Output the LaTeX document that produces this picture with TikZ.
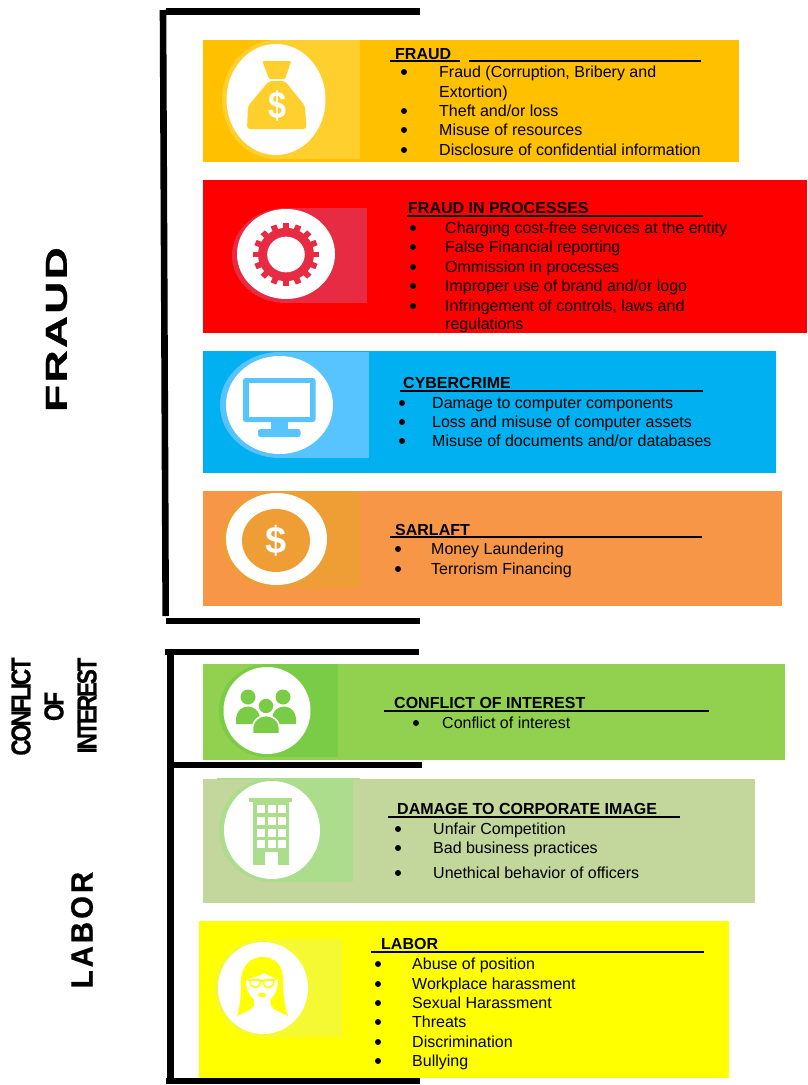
\documentclass[tikz,border=0pt]{standalone}
\usepackage{graphicx}
\usepackage{fontspec}
\setmainfont{Liberation Sans}
\newfontfamily\fraudBold[LetterSpace=5,FakeBold=0.6]{Liberation Sans}
\newfontfamily\wideBold[LetterSpace=10,FakeBold=0.6]{Liberation Sans}
\newfontfamily\tightBold[LetterSpace=-10,FakeBold=0.5]{Liberation Sans}
\definecolor{cA}{HTML}{FFC000}\definecolor{pA}{HTML}{FFCF2D}
\definecolor{cB}{HTML}{FF0000}\definecolor{pB}{HTML}{E72B42}
\definecolor{cC}{HTML}{00B0F0}\definecolor{pC}{HTML}{57C4FF}
\definecolor{cD}{HTML}{F79646}\definecolor{pD}{HTML}{EF9D35}
\definecolor{cE}{HTML}{92D050}\definecolor{pE}{HTML}{7ACC46}
\definecolor{cF}{HTML}{C3D69B}\definecolor{pF}{HTML}{ABDD8D}
\definecolor{cG}{HTML}{FFFF00}\definecolor{pG}{HTML}{F5F931}
\tikzset{
 cardbox/.style={inner sep=0pt,outer sep=0pt,minimum width=#1},
 itemtext/.style={anchor=base west,inner sep=0pt,font=\fontsize{16}{19}\selectfont},
 headtext/.style={anchor=base west,inner sep=0pt,font=\fontsize{16}{19}\selectfont\bfseries},
 rule/.style={line width=1.7pt},
 barline/.style={line width=#1},
 sidelabel/.style={rotate=90,inner sep=0pt}
}
\newcommand{\iconpanel}[8]{%
 \fill[#1] (#2,#3) ellipse [x radius=#4,y radius=#5];
 \fill[#1] (#2,#7) rectangle (#6,#8);}
\newcommand{\whitedisc}[4]{\fill[white] (#1,#2) ellipse [x radius=#3,y radius=#4];}
\newcommand{\listitem}[5]{%
 \fill[black] (#2,#4-5) circle [radius=3];
 \node[itemtext] (#1) at (#3,#4) {#5};}
\newcommand{\headitem}[7]{%
 \node[headtext] (#1) at (#2,#3) {#4};
 \coordinate (#1a) at (#5,#7); \coordinate (#1b) at (#6,#7);
 \draw[rule] (#1a) -- (#1b);}
\begin{document}
\begin{tikzpicture}[x=1pt,y=-1pt]
\useasboundingbox (0,0) rectangle (807,1085);
\fill[white] (0,0) rectangle (807,1085);

% cards
\node[cardbox=536pt,minimum height=122pt,fill=cA] (cardA) at (471,101) {};
\node[cardbox=604pt,minimum height=153pt,fill=cB] (cardB) at (505,256.5) {};
\node[cardbox=573pt,minimum height=122pt,fill=cC] (cardC) at (489.5,412) {};
\node[cardbox=579pt,minimum height=115pt,fill=cD] (cardD) at (492.5,548.5) {};
\node[cardbox=582pt,minimum height=96pt,fill=cE] (cardE) at (494,712) {};
\node[cardbox=552pt,minimum height=124pt,fill=cF] (cardF) at (479,841) {};
\node[cardbox=530pt,minimum height=157pt,fill=cG] (cardG) at (464,999.5) {};

% brackets
\coordinate (b1t) at (166,11.5); \coordinate (b1tr) at (420,11.5);
\coordinate (b1b) at (166,621); \coordinate (b1br) at (420,621);
\coordinate (v1t) at (163,10); \coordinate (v1b) at (165.7,616);
\draw[barline=6.6pt] (v1t) -- (v1b);
\draw[barline=6.5pt] (b1t) -- (b1tr);
\draw[barline=6.2pt] (b1b) -- (b1br);
\coordinate (b2t) at (165,652); \coordinate (b2tr) at (419,652);
\coordinate (b2m) at (170,765); \coordinate (b2mr) at (422,765);
\coordinate (b2b) at (166,1081); \coordinate (b2br) at (420,1081);
\coordinate (v2t) at (170.5,650); \coordinate (v2b) at (170.5,1083);
\draw[barline=6.5pt] (v2t) -- (v2b);
\draw[barline=6pt] (b2t) -- (b2tr);
\draw[barline=6pt] (b2m) -- (b2mr);
\draw[barline=6pt] (b2b) -- (b2br);

% side labels
\node[sidelabel] (lFraud) at (56.5,329.5) {\scalebox{1.46}[1]{\fontsize{30.5}{33}\fraudBold\bfseries FRAUD}};
\node[sidelabel] (lLabor) at (82,930) {\scalebox{0.95}[1]{\fontsize{31}{34}\wideBold\bfseries LABOR}};
\node[sidelabel] (lConf) at (21,706.5) {\scalebox{0.82}[1]{\fontsize{27.5}{30}\tightBold\bfseries CONFLICT}};
\node[sidelabel] (lOf) at (54,706.5) {\scalebox{0.82}[1]{\fontsize{27.5}{30}\tightBold\bfseries OF}};
\node[sidelabel] (lInt) at (87,705.5) {\scalebox{0.82}[1]{\fontsize{27.5}{30}\tightBold\bfseries INTEREST}};

% icon A: money bag
\iconpanel{pA}{276}{99.5}{54}{59.5}{360}{40}{159}
\whitedisc{276}{99.5}{49.5}{55.5}
\fill[pA,rounded corners=1.2pt] (262.3,61) -- (291.2,61) -- (285,79) -- (269,79) -- cycle;
\fill[pA,rounded corners=3pt] (269,81) -- (285,81) -- (305,106) -- (306.5,129) -- (247,129) -- (248,106) -- cycle;
\node[inner sep=0pt,text=white,font=\fontsize{38}{40}\selectfont\bfseries] (dollarA) at (277,106) {\scalebox{0.85}[1]{\$}};

% icon B: gear
\iconpanel{pB}{286}{255.5}{54}{47.5}{367}{208}{303}
\whitedisc{286}{254}{49}{45}
\begin{scope}[shift={(286,254.5)},yscale=0.95]
 \foreach \a in {0,22.5,...,337.5}
  \fill[pB,rotate=\a] (-3,-33) rectangle (3,0);
 \fill[pB] (0,0) circle [radius=28];
 \fill[white] (0,0) circle [radius=18.8];
\end{scope}

% icon C: monitor
\iconpanel{pC}{279.5}{405}{59.5}{53}{369}{352}{458}
\whitedisc{279.5}{405}{53.5}{49}
\fill[pC,rounded corners=2.5pt] (243,378) rectangle (315.5,422);
\fill[white] (249,383) rectangle (310,417);
\fill[pC] (271,421) rectangle (288,431);
\fill[pC,rounded corners=2.5pt] (258,429) rectangle (300.5,437);

% icon D: dollar coin
\iconpanel{pD}{276.5}{539.5}{55.5}{48.5}{361}{491}{588}
\whitedisc{276.5}{539}{50.5}{46}
\fill[pD] (276,540.5) ellipse [x radius=34,y radius=31.5];
\node[inner sep=0pt,text=white,font=\fontsize{38}{40}\selectfont\bfseries] (dollarD) at (276,541) {\$};

% icon E: people
\iconpanel{pE}{267}{710.5}{48}{46.5}{338}{664}{757}
\whitedisc{267}{710.5}{43.5}{43.5}
\fill[pE] (248,697) circle [radius=7.5];
\fill[pE] (283,697) circle [radius=7.5];
\fill[pE] (236,724) -- (236,720) .. controls (236,702) and (260,702) .. (260,720) -- (260,724) -- cycle;
\fill[pE] (272,724) -- (272,720) .. controls (272,702) and (296,702) .. (296,720) -- (296,724) -- cycle;
\fill[pE,draw=white,line width=1.6pt] (252.5,734) -- (252.5,729) .. controls (252.5,711) and (279.5,711) .. (279.5,729) -- (279.5,734) -- cycle;
\fill[pE,draw=white,line width=1.6pt] (266,706) circle [radius=8.2];

% icon F: building
\iconpanel{pF}{272}{830}{53}{52}{353}{778}{882}
\fill[pF] (217,778) rectangle (360,779.5);
\whitedisc{272}{830}{48}{49}
\fill[pF] (249,798) rectangle (292,802);
\fill[pF] (253,802) rectangle (289,864.5);
\foreach \wx in {256.5,267.5,278} \foreach \wy in {805,817,828.5,840}
 \fill[white] (\wx,\wy) rectangle +(8,8);
\fill[white] (265,852) rectangle (277.5,865);

% icon G: woman
\iconpanel{pG}{263}{988}{49}{49}{342}{939}{1037}
\whitedisc{263}{988}{45}{46}
\fill[cG] (237,1016) .. controls (241,1004) and (241,990) .. (241,980)
 .. controls (242,964) and (252,957) .. (262,957) .. controls (274,957) and (283,964) .. (283,980)
 .. controls (283,992) and (284,1004) .. (288,1016) -- (275,1010) -- (250,1010) -- cycle;
\fill[white] (246,979) .. controls (252,978) and (260,976) .. (265,973) .. controls (268,976) and (274,978) .. (278,979)
 .. controls (279,992) and (270,1003) .. (262,1003) .. controls (254,1003) and (245,992) .. (246,979) -- cycle;
\fill[white] (254,998) -- (270,998) -- (271,1006) .. controls (274,1011) and (282,1013) .. (289,1017) -- (289,1025) -- (236,1025) -- (236,1017) .. controls (243,1013) and (251,1011) .. (254,1006) -- cycle;
\draw[cG,line width=1.6pt,fill=white] (250,980) -- (260,980) .. controls (261,987) and (257,987.5) .. (255,987.5) .. controls (252,987.5) and (250,985) .. (250,980) -- cycle;
\draw[cG,line width=1.6pt,fill=white] (264,980) -- (274,980) .. controls (274,985) and (272,987.5) .. (269,987.5) .. controls (266,987.5) and (263,987) .. (264,980) -- cycle;
\draw[cG,line width=1.6pt] (260,981) -- (264,981) (245,979) -- (250,980) (274,980) -- (279,978);
\fill[cG] (262,995) ellipse [x radius=4.2,y radius=2.2];

% texts A
\headitem{hA}{395}{59}{FRAUD}{390}{701}{61}
\draw[cA,line width=2.4pt] (460,61) -- (469,61);
\listitem{a1}{404}{439}{77}{Fraud (Corruption, Bribery and}
\node[itemtext] (a1b) at (439,97) {Extortion)};
\listitem{a2}{404}{439}{116}{Theft and/or loss}
\listitem{a3}{404}{439}{135}{Misuse of resources}
\listitem{a4}{404}{439}{155}{Disclosure of confidential information}

% texts B
\headitem{hB}{408}{213}{FRAUD IN PROCESSES}{407}{703}{216}
\listitem{b1}{413}{445}{233}{Charging cost-free services at the entity}
\listitem{b2}{413}{445}{252}{False Financial reporting}
\listitem{b3}{413}{445}{272}{Ommission in processes}
\listitem{b4}{413}{445}{291}{Improper use of brand and/or logo}
\listitem{b5}{413}{445}{311}{Infringement of controls, laws and}
\node[itemtext] (b5b) at (445,329) {regulations};

% texts C
\headitem{hC}{403}{388}{CYBERCRIME}{400}{703}{391}
\listitem{c1}{402}{432}{408}{Damage to computer components}
\listitem{c2}{402}{432}{427}{Loss and misuse of computer assets}
\listitem{c3}{402}{432}{446}{Misuse of documents and/or databases}

% texts D
\headitem{hD}{395}{535}{SARLAFT}{390}{702}{537}
\listitem{d1}{398}{431}{554}{Money Laundering}
\listitem{d2}{398}{431}{574}{Terrorism Financing}

% texts E
\headitem{hE}{394}{708}{CONFLICT OF INTEREST}{384}{709}{711}
\listitem{e1}{416}{442}{728}{Conflict of interest}

% texts F
\headitem{hF}{397}{814}{DAMAGE TO CORPORATE IMAGE}{388}{680}{817}
\listitem{f1}{398}{433}{834}{Unfair Competition}
\listitem{f2}{398}{433}{853}{Bad business practices}
\listitem{f3}{398}{433}{878}{Unethical behavior of officers}

% texts G
\headitem{hG}{381}{949}{LABOR}{371}{704}{952}
\listitem{g1}{378}{412}{969}{Abuse of position}
\listitem{g2}{378}{412}{989}{Workplace harassment}
\listitem{g3}{378}{412}{1008}{Sexual Harassment}
\listitem{g4}{378}{412}{1027}{Threats}
\listitem{g5}{378}{412}{1047}{Discrimination}
\listitem{g6}{378}{412}{1066}{Bullying}
\end{tikzpicture}
\end{document}
